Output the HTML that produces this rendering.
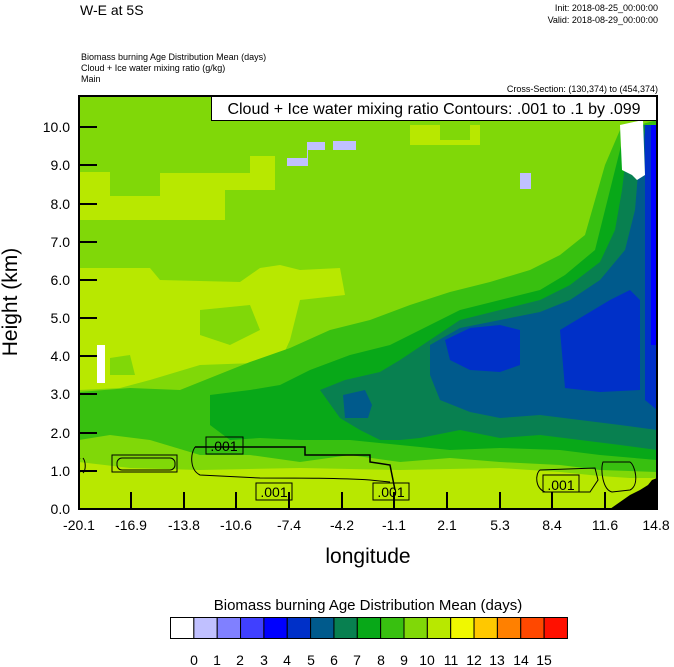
<!DOCTYPE html>
<html><head><meta charset="utf-8"><style>
body{margin:0;background:#fff;}
svg{display:block;font-family:"Liberation Sans",sans-serif;}
</style></head><body>
<svg width="674" height="667" viewBox="0 0 674 667" xmlns="http://www.w3.org/2000/svg">
<text x="80" y="15" font-size="14">W-E at 5S</text>
<text x="658" y="11" font-size="9" text-anchor="end">Init: 2018-08-25_00:00:00</text>
<text x="658" y="23" font-size="9" text-anchor="end">Valid: 2018-08-29_00:00:00</text>
<text x="81" y="60" font-size="9">Biomass burning Age Distribution Mean    (days)</text>
<text x="81" y="71" font-size="9">Cloud + Ice water mixing ratio    (g/kg)</text>
<text x="81" y="82" font-size="9">Main</text>
<text x="658" y="92" font-size="9" text-anchor="end">Cross-Section: (130,374) to (454,374)</text>
<defs><clipPath id="c"><rect x="79" y="96" width="578" height="413"/></clipPath></defs>
<g clip-path="url(#c)">
<rect x="79" y="96" width="578" height="413" fill="#80d808"/>
<!-- upper yellow-green patches -->
<polygon points="79,172 110,172 110,196 160,196 160,173 250,173 250,156 275,156 275,190 225,190 225,220 79,220" fill="#b8e800"/>
<polygon points="410,125 440,125 440,140 470,140 470,125 480,125 480,145 410,145" fill="#b8e800"/>
<!-- left mid yellow-green -->
<polygon points="79,268 150,268 160,280 240,282 260,268 280,265 300,270 340,268 345,295 300,300 290,340 280,362 200,365 150,380 120,388 79,390" fill="#b8e800"/>
<polygon points="110,358 130,355 135,375 110,375" fill="#80d808"/>
<polygon points="200,310 250,305 260,330 230,345 200,335" fill="#80d808"/>
<!-- 8-9 -->
<polygon points="79,392 130,388 180,390 210,378 250,362 290,348 330,330 370,320 410,305 450,292 490,282 530,270 560,255 585,235 595,200 605,165 620,130 657,120 657,472 600,470 560,465 500,462 450,458 400,462 350,455 300,462 250,455 200,455 150,440 110,435 79,440" fill="#38c010"/>
<!-- 7-8 -->
<polygon points="210,395 250,390 280,385 310,370 350,355 390,345 420,330 460,310 500,300 540,290 565,275 595,250 605,210 615,170 625,130 657,125 657,460 600,455 560,450 500,448 450,450 400,445 350,440 300,440 260,438 230,440 210,425" fill="#08a818"/>
<!-- 6-7 -->
<polygon points="320,390 345,380 380,372 400,360 430,340 460,320 500,310 540,300 570,285 600,262 615,230 622,190 628,140 640,125 657,125 657,450 620,445 580,440 540,435 500,438 460,430 420,438 400,440 380,440 360,430 340,418" fill="#088050"/>
<!-- 5-6 -->
<polygon points="343,395 365,390 372,405 368,418 345,418" fill="#005a8c"/>
<polygon points="430,345 460,328 500,320 540,312 570,300 600,280 625,250 635,210 640,150 647,125 657,125 657,430 620,425 580,420 540,415 500,418 470,412 440,400 430,375" fill="#005a8c"/>
<!-- 4-5 -->
<polygon points="445,340 470,328 500,325 520,330 520,365 500,372 470,370 450,360" fill="#0030c8"/>
<polygon points="560,330 580,318 610,300 630,290 640,300 640,390 600,392 565,388" fill="#0030c8"/>
<polygon points="645,125 657,125 657,410 645,400 645,300" fill="#0030c8"/>
<rect x="651" y="125" width="6" height="220" fill="#0000ff"/>
<!-- white / light blue -->
<polygon points="620,125 643,120 645,175 637,180 632,175 622,170" fill="#ffffff"/>
<rect x="97" y="345" width="8" height="38" fill="#ffffff"/>
<polygon points="287,158 307,158 307,142 325,142 325,150 356,150 356,141 333,141 333,150 308,150 308,166 287,166" fill="#c0c0ff"/>
<rect x="520" y="173" width="11" height="16" fill="#c0c0ff"/>
<!-- bottom yellow-green -->
<polygon points="79,462 130,468 200,470 300,468 400,470 500,468 560,472 600,476 630,478 657,478 657,509 79,509" fill="#b8e800"/>
<!-- terrain -->
<polygon points="610,509 630,495 640,490 648,485 652,480 657,478 657,509" fill="#000"/>
<!-- contours -->
<g fill="none" stroke="#000" stroke-width="1">
<polyline points="195,447 305,447 305,455 370,455 370,462 390,465 395,490" stroke-width="1.5"/>
<path d="M195,447 C190,455 190,470 200,475 L260,478 C300,478 340,478 370,480 L390,482"/>
<rect x="112" y="455" width="65" height="17"/>
<rect x="117" y="458" width="58" height="12" rx="5"/>
<path d="M80,458 C77,462 77,470 80,473 M83,458 C86,462 86,470 83,473"/>
<path d="M540,470 L595,468 L598,480 L590,492 L545,492 C535,488 535,474 540,470 Z"/>
<path d="M603,462 C600,470 603,490 612,492 L630,490 C640,485 635,465 630,462 Z"/>
</g>
<g font-size="14" text-anchor="middle">
<rect x="206" y="437" width="37" height="17" fill="none" stroke="#000"/>
<text x="224" y="451">.001</text>
<rect x="256" y="483" width="36" height="17" fill="none" stroke="#000"/>
<text x="274" y="497">.001</text>
<rect x="373" y="483" width="36" height="17" fill="none" stroke="#000"/>
<text x="391" y="497">.001</text>
<rect x="543" y="475" width="36" height="17" fill="none" stroke="#000"/>
<text x="561" y="490">.001</text>
</g>
</g>
<rect x="211.5" y="96.5" width="446" height="24" fill="#fff" stroke="#000"/>
<text x="434" y="114" font-size="16" text-anchor="middle">Cloud + Ice water mixing ratio Contours: .001 to .1 by .099</text>
<rect x="79" y="96" width="578" height="413" fill="none" stroke="#000" stroke-width="2"/>
<g stroke="#000" stroke-width="2">
<line x1="79" y1="471" x2="97" y2="471"/><line x1="79" y1="433" x2="97" y2="433"/>
<line x1="79" y1="394" x2="97" y2="394"/><line x1="79" y1="356" x2="97" y2="356"/>
<line x1="79" y1="318" x2="97" y2="318"/><line x1="79" y1="280" x2="97" y2="280"/>
<line x1="79" y1="242" x2="97" y2="242"/><line x1="79" y1="204" x2="97" y2="204"/>
<line x1="79" y1="165" x2="97" y2="165"/><line x1="79" y1="127" x2="97" y2="127"/>
<line x1="131" y1="509" x2="131" y2="492"/><line x1="184" y1="509" x2="184" y2="492"/>
<line x1="236" y1="509" x2="236" y2="492"/><line x1="289" y1="509" x2="289" y2="492"/>
<line x1="342" y1="509" x2="342" y2="492"/><line x1="394" y1="509" x2="394" y2="492"/>
<line x1="447" y1="509" x2="447" y2="492"/><line x1="500" y1="509" x2="500" y2="492"/>
<line x1="552" y1="509" x2="552" y2="492"/><line x1="605" y1="509" x2="605" y2="492"/>
</g>
<g font-size="14" text-anchor="end">
<text x="70" y="514">0.0</text><text x="70" y="476">1.0</text><text x="70" y="438">2.0</text>
<text x="70" y="399">3.0</text><text x="70" y="361">4.0</text><text x="70" y="323">5.0</text>
<text x="70" y="285">6.0</text><text x="70" y="247">7.0</text><text x="70" y="209">8.0</text>
<text x="70" y="170">9.0</text><text x="70" y="132">10.0</text>
</g>
<g font-size="14" text-anchor="middle">
<text x="79" y="530">-20.1</text><text x="131" y="530">-16.9</text><text x="184" y="530">-13.8</text>
<text x="236" y="530">-10.6</text><text x="289" y="530">-7.4</text><text x="342" y="530">-4.2</text>
<text x="394" y="530">-1.1</text><text x="447" y="530">2.1</text><text x="500" y="530">5.3</text>
<text x="552" y="530">8.4</text><text x="605" y="530">11.6</text><text x="656" y="530">14.8</text>
</g>
<text x="368" y="563" font-size="21" text-anchor="middle">longitude</text>
<text transform="translate(17,302) rotate(-90)" font-size="21" text-anchor="middle">Height (km)</text>
<text x="368" y="610" font-size="15" text-anchor="middle">Biomass burning Age Distribution Mean  (days)</text>
<g stroke="#000" stroke-width="1">
<rect x="170.5" y="617.5" width="23.35" height="21" fill="#ffffff"/>
<rect x="193.85" y="617.5" width="23.35" height="21" fill="#c0c0ff"/>
<rect x="217.2" y="617.5" width="23.35" height="21" fill="#8080ff"/>
<rect x="240.55" y="617.5" width="23.35" height="21" fill="#4040ff"/>
<rect x="263.9" y="617.5" width="23.35" height="21" fill="#0000ff"/>
<rect x="287.25" y="617.5" width="23.35" height="21" fill="#0030c8"/>
<rect x="310.6" y="617.5" width="23.35" height="21" fill="#005a8c"/>
<rect x="333.95" y="617.5" width="23.35" height="21" fill="#088050"/>
<rect x="357.3" y="617.5" width="23.35" height="21" fill="#08a818"/>
<rect x="380.65" y="617.5" width="23.35" height="21" fill="#38c010"/>
<rect x="404" y="617.5" width="23.35" height="21" fill="#80d808"/>
<rect x="427.35" y="617.5" width="23.35" height="21" fill="#b8e800"/>
<rect x="450.7" y="617.5" width="23.35" height="21" fill="#f0f800"/>
<rect x="474.05" y="617.5" width="23.35" height="21" fill="#ffc800"/>
<rect x="497.4" y="617.5" width="23.35" height="21" fill="#ff8000"/>
<rect x="520.75" y="617.5" width="23.35" height="21" fill="#ff4800"/>
<rect x="544.1" y="617.5" width="23.35" height="21" fill="#ff1000"/>
</g>
<g font-size="14" text-anchor="middle">
<text x="194" y="665">0</text><text x="217" y="665">1</text><text x="240" y="665">2</text>
<text x="264" y="665">3</text><text x="287" y="665">4</text><text x="311" y="665">5</text>
<text x="334" y="665">6</text><text x="357" y="665">7</text><text x="381" y="665">8</text>
<text x="404" y="665">9</text><text x="427" y="665">10</text><text x="451" y="665">11</text>
<text x="474" y="665">12</text><text x="497" y="665">13</text><text x="521" y="665">14</text>
<text x="544" y="665">15</text>
</g>
</svg>
</body></html>
